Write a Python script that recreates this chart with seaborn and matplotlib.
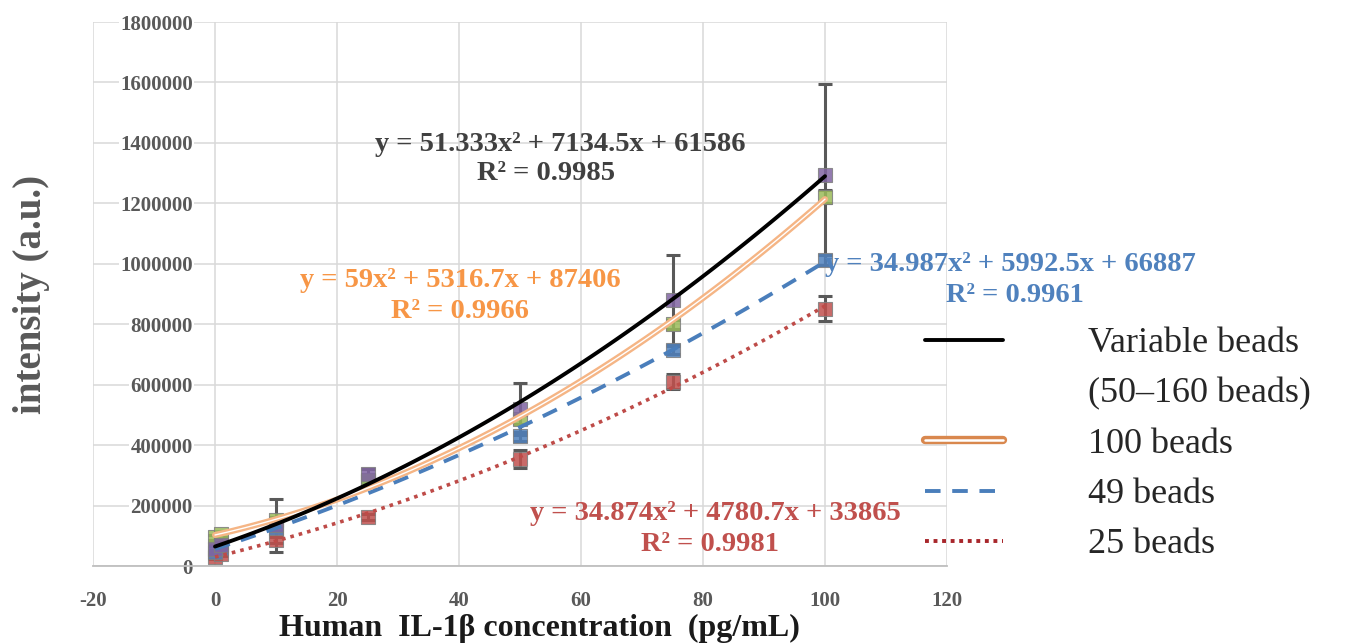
import numpy as np
import pandas as pd
import matplotlib
matplotlib.use("Agg")
import matplotlib.pyplot as plt
from matplotlib.lines import Line2D
from matplotlib.legend_handler import HandlerTuple
import seaborn as sns

# Values
conc = [0, 1, 10, 25, 50, 75, 100]
variable_beads = [55000, 70000, 135000, 305000, 520000, 880000, 1295000]
variable_err = [10000, 10000, 88000, 15000, 85000, 150000, 300000]
beads_100 = [95000, 105000, 152000, 285000, 485000, 800000, 1222000]
beads_100_err = [8000, 8000, 10000, 10000, 15000, 15000, 22000]
beads_49 = [45000, 60000, 125000, 280000, 430000, 715000, 1012000]
beads_49_err = [8000, 8000, 8000, 10000, 15000, 12000, 17000]
beads_25 = [30000, 40000, 85000, 163000, 355000, 610000, 852000]
beads_25_err = [6000, 6000, 10000, 10000, 30000, 25000, 40000]

xticks = [-20, 0, 20, 40, 60, 80, 100, 120]
xtick_labels = ["-20", "0", "20", "40", "60", "80", "100", "120"]
yticks = [0, 200000, 400000, 600000, 800000, 1000000, 1200000, 1400000, 1600000, 1800000]
ytick_labels = [str(v) for v in yticks]

equations = {
    "variable": ("y = 51.333x\u00b2 + 7134.5x + 61586", "R\u00b2 = 0.9985"),
    "100": ("y = 59x\u00b2 + 5316.7x + 87406", "R\u00b2 = 0.9966"),
    "49": ("y = 34.987x\u00b2 + 5992.5x + 66887", "R\u00b2 = 0.9961"),
    "25": ("y = 34.874x\u00b2 + 4780.7x + 33865", "R\u00b2 = 0.9981"),
}

df = pd.DataFrame({
    "conc": conc,
    "variable": variable_beads,
    "b100": beads_100,
    "b49": beads_49,
    "b25": beads_25,
})

sns.set_theme(style="white")
plt.rcParams["font.family"] = ["Liberation Serif", "DejaVu Serif"]

fig = plt.figure(figsize=(13.62, 6.44), dpi=100)
ax = fig.add_axes([0.0683, 0.1211, 0.627, 0.8447])

GRAY = "#595959"
ORANGE = "#F5B585"
BLUE = "#4A7EBB"
RED = "#BE4B48"

# markers with error bars
marker_sets = [
    ("b25", beads_25_err, "#C0504D"),
    ("b49", beads_49_err, "#4F81BD"),
    ("b100", beads_100_err, "#9BBB59"),
    ("variable", variable_err, "#8064A2"),
]
for col, err, c in marker_sets:
    ax.errorbar(df["conc"], df[col], yerr=err, fmt="none", ecolor=GRAY,
                elinewidth=2.2, capsize=5, capthick=2.2, zorder=3)
    sns.scatterplot(data=df, x="conc", y=col, ax=ax, marker="s", s=90,
                    color=c, edgecolor="#7f7f7f", linewidth=0.8, alpha=0.85,
                    zorder=4, legend=False)

# quadratic trend lines
sns.regplot(data=df, x="conc", y="b25", order=2, ci=None, scatter=False, truncate=True,
            ax=ax, line_kws=dict(color=RED, lw=2.6, ls=(0, (1, 1.4)), zorder=5))
sns.regplot(data=df, x="conc", y="b49", order=2, ci=None, scatter=False, truncate=True,
            ax=ax, line_kws=dict(color=BLUE, lw=2.8, ls=(0, (4, 3)), zorder=5))
sns.regplot(data=df, x="conc", y="b100", order=2, ci=None, scatter=False, truncate=True,
            ax=ax, line_kws=dict(color=ORANGE, lw=4.4, zorder=5))
sns.regplot(data=df, x="conc", y="b100", order=2, ci=None, scatter=False, truncate=True,
            ax=ax, line_kws=dict(color="white", lw=1.0, zorder=5))
sns.regplot(data=df, x="conc", y="variable", order=2, ci=None, scatter=False, truncate=True,
            ax=ax, line_kws=dict(color="black", lw=2.8, zorder=6))

ax.set_xlim(-20, 120)
ax.set_ylim(0, 1800000)
ax.set_xticks(xticks)
ax.set_xticklabels(xtick_labels)
ax.set_yticks(yticks)
ax.set_yticklabels(ytick_labels)
ax.grid(True, color="#D9D9D9", lw=1.1)
ax.set_axisbelow(True)

for s in ["top", "right"]:
    ax.spines[s].set_visible(False)
ax.spines["left"].set_position(("data", 0))
ax.spines["left"].set_visible(False)
ax.spines["bottom"].set_color("#BFBFBF")
ax.spines["bottom"].set_linewidth(1.3)

ax.tick_params(axis="both", length=0, labelsize=15, labelcolor=GRAY)
ax.tick_params(axis="y", pad=16)
ax.tick_params(axis="x", pad=18)
for lbl in ax.get_xticklabels() + ax.get_yticklabels():
    lbl.set_fontweight("bold")
for lbl in ax.get_yticklabels():
    lbl.set_bbox(dict(facecolor="white", edgecolor="none", pad=1))

ax.set_xlabel("Human  IL-1\u03b2 concentration  (pg/mL)", fontsize=23,
              fontweight="bold", color="#1a1a1a", va="bottom")
ax.xaxis.set_label_coords(0.523, -0.1415)
ax.set_ylabel("intensity (a.u.)", fontsize=28, fontweight="bold", color=GRAY)
ax.yaxis.set_label_coords(-0.05, 0.5)

# trend line equations
eq_style = dict(fontsize=20.5, fontweight="bold", ha="center", va="center")
fig.text(0.411, 0.776, equations["variable"][0], color="#404040", **eq_style)
fig.text(0.401, 0.731, equations["variable"][1], color="#404040", **eq_style)
fig.text(0.338, 0.565, equations["100"][0], color="#F79646", **eq_style)
fig.text(0.338, 0.517, equations["100"][1], color="#F79646", **eq_style)
fig.text(0.742, 0.589, equations["49"][0], color="#4F81BD", **eq_style)
fig.text(0.745, 0.541, equations["49"][1], color="#4F81BD", **eq_style)
fig.text(0.525, 0.203, equations["25"][0], color="#C0504D", **eq_style)
fig.text(0.521, 0.155, equations["25"][1], color="#C0504D", **eq_style)

# legend
h_var = Line2D([], [], color="black", lw=2.8)
h_blank = Line2D([], [], color="none")
h_100a = Line2D([], [], color="#D9884E", lw=6)
h_100b = Line2D([], [], color="white", lw=1.8)
h_49 = Line2D([], [], color=BLUE, lw=2.8, ls=(0, (4, 3)))
h_25 = Line2D([], [], color="#A8262B", lw=2.8, ls=(0, (1, 1.2)))
fig.legend([h_var, h_blank, (h_100a, h_100b), h_49, h_25],
           ["Variable beads", "(50\u2013160 beads)", "100 beads", "49 beads", "25 beads"],
           handler_map={tuple: HandlerTuple(ndivide=1)},
           loc="upper left", bbox_to_anchor=(0.679, 0.492), frameon=False,
           prop={"family": "Liberation Serif", "size": 26},
           handlelength=2.16, handletextpad=2.35, labelspacing=0.47,
           borderpad=0, borderaxespad=0)

fig.savefig("out.png", dpi=100)
